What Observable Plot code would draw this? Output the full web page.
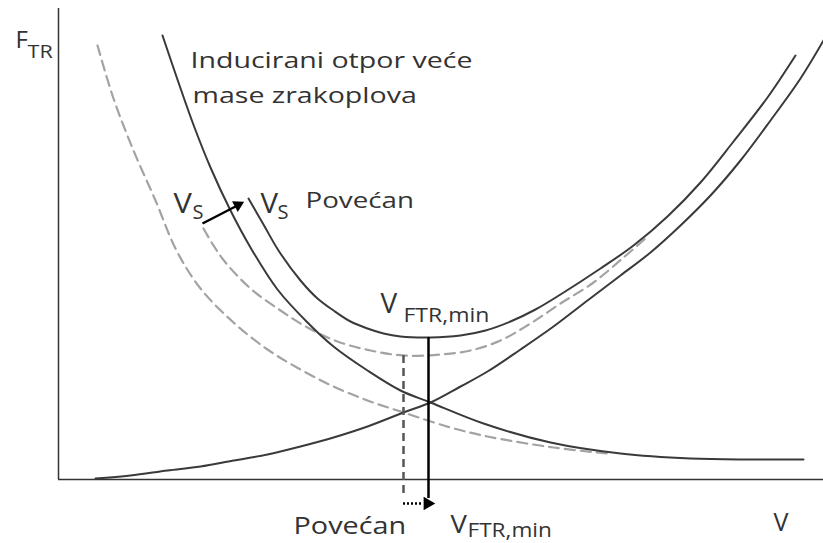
<!DOCTYPE html>
<html><head><meta charset="utf-8">
<script src="https://cdn.jsdelivr.net/npm/d3@7"></script>
<script src="https://cdn.jsdelivr.net/npm/@observablehq/plot@0.6"></script>
<style>body{margin:0;background:#fff;overflow:hidden}</style>
</head><body><div id="chart"></div>
<script>
// Induced drag, heavier aircraft (solid)
const inducedHeavy = [[104,444],[120,397],[136,352],[152,312],[172,269],[192,232],[219,190],[249,157],[275,133],[309,109],[342,89],[372,77],[425,56],[492,37],[562,26],[632,21],[692,20],[745,20]];
// Induced drag, lighter aircraft (dashed)
const inducedLight = [[39,434],[55,381],[75,329],[97,279],[118,229],[142,191],[175,157],[209,130],[242,110],[275,93],[309,79],[345,67],[392,52],[429,43],[495,32],[549,26]];
// Total drag, heavier aircraft (solid)
const totalHeavy = [[190,281],[205,255],[220,229],[242,199],[259,181],[275,169],[292,158],[309,151],[325,146],[342,143],[372,142],[402,144],[427,149],[452,158],[477,170],[502,185],[542,211],[575,234],[609,263],[642,297],[675,338],[709,382],[737,424]];
// Total drag, lighter aircraft (dashed)
const totalLight = [[145,251],[155,234],[167,217],[192,191],[222,169],[249,152],[279,138],[312,129],[345,124],[382,125],[412,129],[442,139],[472,156],[502,176],[535,197],[565,222],[587,241]];
// Parasite drag (solid)
const parasite = [[37,1],[72,4],[109,9],[142,13],[175,19],[209,25],[242,33],[275,42],[309,53],[345,67],[372,77],[402,93],[429,108],[462,130],[495,153],[529,179],[562,204],[592,227],[622,254],[652,284],[682,319],[712,359],[742,401],[765,439]];
// Minimum-drag speeds
const vminHeavy = 370, ftrMinHeavy = 142;
const vminLight = 345, ftrMinLight = 124;

// Text pieces (w = horizontal stretch of the glyphs)
const labels = [
  {t:"F", x:-43, y:432, s:24, w:1},
  {t:"TR", x:-31, y:422, s:18, w:1.2},
  {t:"Inducirani otpor veće", x:132, y:412, s:21, w:1.36},
  {t:"mase zrakoplova", x:134, y:377, s:21, w:1.36},
  {t:"V", x:115, y:267, s:28, w:1.1},
  {t:"S", x:134, y:261, s:20, w:1},
  {t:"V", x:202, y:267, s:28, w:1.05},
  {t:"S", x:219, y:261, s:20, w:1},
  {t:"Povećan", x:247, y:272, s:21, w:1.32},
  {t:"V", x:322, y:167, s:28, w:1},
  {t:"FTR,min", x:345, y:158, s:20, w:1.15},
  {t:"Povećan", x:235, y:-54, s:24, w:1.2},
  {t:"V", x:392, y:-53, s:25, w:1.1},
  {t:"FTR,min", x:409, y:-57, s:20, w:1.13},
  {t:"V", x:715, y:-51, s:25, w:1}
];

const X = d => d[0], Y = d => d[1];
const solid = "#3a3a3a", dashed = "#a3a3a3";

const chart = Plot.plot({
  width: 823, height: 543,
  marginLeft: 58, marginRight: 0, marginTop: 9, marginBottom: 64,
  x: {domain: [0, 765], axis: null},
  y: {domain: [0, 470], axis: null},
  style: {fontFamily: "'Open Sans', sans-serif", background: "#fff", color: "#333"},
  marks: [
    Plot.ruleX([0], {y1: 0, y2: 471, stroke: "#333", strokeWidth: 1.5}),
    Plot.ruleY([0], {x1: 0, x2: 765, stroke: "#333", strokeWidth: 1.5}),
    Plot.line(inducedLight, {x: X, y: Y, curve: "catmull-rom", stroke: dashed, strokeWidth: 2.2, strokeDasharray: "10,6"}),
    Plot.line(totalLight, {x: X, y: Y, curve: "catmull-rom", stroke: dashed, strokeWidth: 2.2, strokeDasharray: "10,6"}),
    Plot.line(inducedHeavy, {x: X, y: Y, curve: "catmull-rom", stroke: solid, strokeWidth: 2}),
    Plot.line(parasite, {x: X, y: Y, curve: "catmull-rom", stroke: solid, strokeWidth: 2}),
    Plot.line(totalHeavy, {x: X, y: Y, curve: "catmull-rom", stroke: solid, strokeWidth: 2}),
    Plot.ruleX([vminLight], {y1: ftrMinLight, y2: -16, stroke: "#555", strokeWidth: 2.5, strokeDasharray: "8,5"}),
    Plot.ruleX([vminHeavy], {y1: ftrMinHeavy, y2: -19, stroke: "#000", strokeWidth: 2.5}),
    // dotted shift arrow below axis
    Plot.ruleY([-24], {x1: vminLight, x2: vminHeavy - 6, stroke: "#000", strokeWidth: 2.5, strokeDasharray: "2,2"}),
    Plot.dot([[vminHeavy - 1, -24]], {x: X, y: Y, symbol: "triangle", r: 5, fill: "#000", stroke: null, rotate: 90}),
    // V_S shift arrow
    Plot.link([[144, 256, 177, 273]], {x1: d => d[0], y1: d => d[1], x2: d => d[2], y2: d => d[3], stroke: "#000", strokeWidth: 2.5}),
    Plot.dot([[179.5, 274.5]], {x: X, y: Y, symbol: "triangle", r: 4.5, fill: "#000", stroke: null, rotate: 62}),
    Plot.text(labels, {x: "x", y: "y", text: "t", fontSize: "s", textAnchor: "start", lineAnchor: "bottom", fill: "#333"})
  ]
});
// stretch glyphs horizontally to match the reference typeface widths
d3.select(chart).selectAll('g[aria-label="text"] text').each(function(_, i) {
  const el = d3.select(this);
  const tr = el.attr("transform") || "";
  el.attr("transform", tr + ` scale(${labels[i].w},1)`);
});
document.getElementById("chart").appendChild(chart);
</script>
</body></html>
